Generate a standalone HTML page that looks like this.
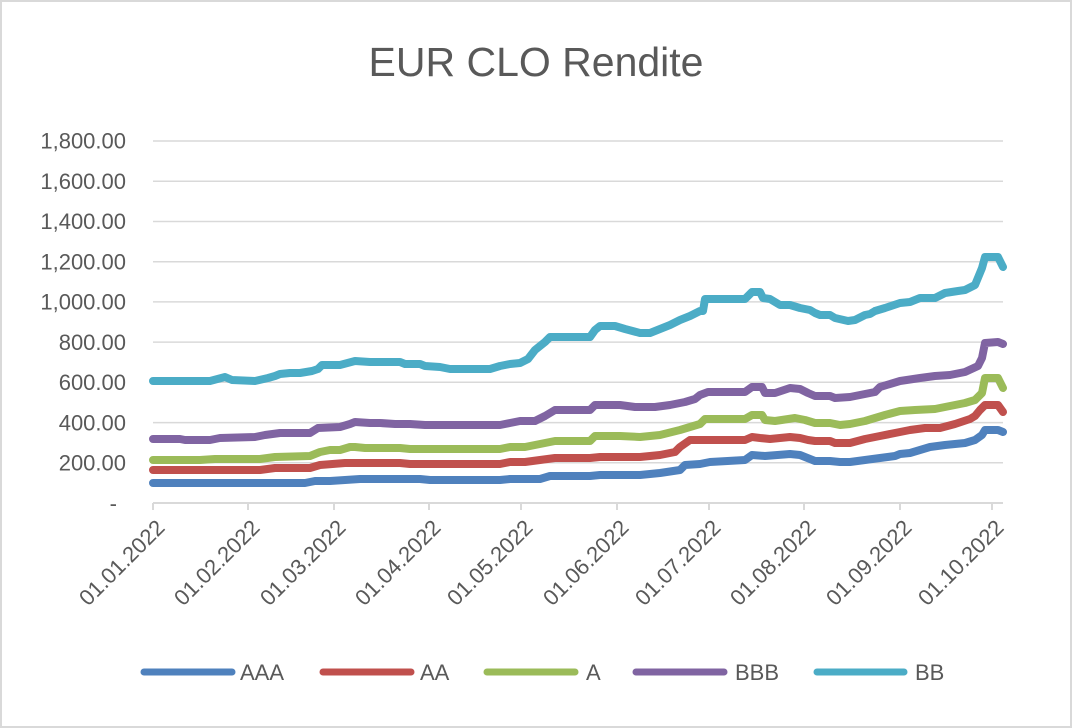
<!DOCTYPE html>
<html><head><meta charset="utf-8"><style>
html,body{margin:0;padding:0;background:#fff;}
svg{display:block;font-family:"Liberation Sans",Arial,sans-serif;}
</style></head><body>
<svg width="1072" height="728" viewBox="0 0 1072 728" xmlns="http://www.w3.org/2000/svg">
<rect x="1" y="1" width="1070" height="726" fill="#fff" stroke="#d9d9d9" stroke-width="2"/>
<text x="536" y="76" text-anchor="middle" font-size="41" fill="#595959">EUR CLO Rendite</text>
<g stroke="#d9d9d9" stroke-width="1.5">
<line x1="153" x2="1003" y1="462.8" y2="462.8"/>
<line x1="153" x2="1003" y1="422.6" y2="422.6"/>
<line x1="153" x2="1003" y1="382.3" y2="382.3"/>
<line x1="153" x2="1003" y1="342.1" y2="342.1"/>
<line x1="153" x2="1003" y1="301.9" y2="301.9"/>
<line x1="153" x2="1003" y1="261.7" y2="261.7"/>
<line x1="153" x2="1003" y1="221.5" y2="221.5"/>
<line x1="153" x2="1003" y1="181.2" y2="181.2"/>
<line x1="153" x2="1003" y1="141" y2="141"/>
</g>
<g stroke="#d9d9d9" stroke-width="2">
<line x1="153" x2="1003" y1="503" y2="503"/>
<line x1="153" x2="153" y1="503" y2="510"/><line x1="248" x2="248" y1="503" y2="510"/><line x1="334" x2="334" y1="503" y2="510"/><line x1="429" x2="429" y1="503" y2="510"/><line x1="521" x2="521" y1="503" y2="510"/><line x1="617" x2="617" y1="503" y2="510"/><line x1="709" x2="709" y1="503" y2="510"/><line x1="804" x2="804" y1="503" y2="510"/><line x1="900" x2="900" y1="503" y2="510"/><line x1="992" x2="992" y1="503" y2="510"/>
</g>
<g font-size="22" fill="#595959" text-anchor="end">
<text x="117" y="511">-</text>
<text x="126" y="470.5">200.00</text>
<text x="126" y="430.3">400.00</text>
<text x="126" y="390">600.00</text>
<text x="126" y="349.8">800.00</text>
<text x="126" y="309.6">1,000.00</text>
<text x="126" y="269.4">1,200.00</text>
<text x="126" y="229.2">1,400.00</text>
<text x="126" y="188.9">1,600.00</text>
<text x="126" y="148.7">1,800.00</text>
</g>
<g font-size="22" fill="#595959" text-anchor="end">
<text transform="translate(166,529) rotate(-45)">01.01.2022</text>
<text transform="translate(261,529) rotate(-45)">01.02.2022</text>
<text transform="translate(347,529) rotate(-45)">01.03.2022</text>
<text transform="translate(442,529) rotate(-45)">01.04.2022</text>
<text transform="translate(534,529) rotate(-45)">01.05.2022</text>
<text transform="translate(630,529) rotate(-45)">01.06.2022</text>
<text transform="translate(722,529) rotate(-45)">01.07.2022</text>
<text transform="translate(817,529) rotate(-45)">01.08.2022</text>
<text transform="translate(913,529) rotate(-45)">01.09.2022</text>
<text transform="translate(1005,529) rotate(-45)">01.10.2022</text>
</g>
<g fill="none" stroke-width="8" stroke-linejoin="round" stroke-linecap="round">
<polyline stroke="#4bacc6" points="153,381 210,381 225,377 232,380 255,381 268,378 275,376 280,374 290,373 300,373 312,371 318,369 322,365 340,365 355,361 370,362 400,362 405,364 420,364 425,366 440,367 450,369 490,369 500,366 510,364 520,363 528,359 535,350 545,342 550,337 590,337 595,330 600,326 615,326 625,329 640,333 650,333 670,325 680,320 690,316 700,311 703,311 705,299 745,299 752,292 760,292 763,298 770,299 780,305 790,305 800,308 810,310 815,313 820,315 830,315 835,318 848,321 855,320 865,315 870,314 875,311 885,308 900,303 910,302 920,298 935,298 945,293 958,291 965,290 975,285 982,268 985,257 998,257 1003,267"/>
<polyline stroke="#8064a2" points="153,439 180,439 185,440 210,440 220,438 255,437 265,435 280,433 310,433 318,428 340,427 350,424 355,422 370,423 380,423 395,424 410,424 425,425 500,425 510,423 520,421 535,421 545,416 555,410 590,410 595,405 620,405 635,407 655,407 670,405 685,402 695,399 700,395 708,392 745,392 752,387 762,387 765,393 775,393 790,388 800,389 808,393 815,396 830,396 835,398 850,397 865,394 875,392 880,387 900,381 920,378 935,376 950,375 965,372 978,366 982,358 985,343 998,342 1003,344"/>
<polyline stroke="#9bbb59" points="153,460 200,460 215,459 260,459 275,457 310,456 320,452 330,450 340,450 350,447 355,447 365,448 400,448 410,449 430,449 500,449 510,447 525,447 540,444 555,441 590,441 595,436 620,436 640,437 660,435 680,430 690,427 700,424 705,419 745,419 752,415 762,415 765,420 775,421 795,418 805,420 815,423 830,423 840,425 850,424 865,421 875,418 885,415 900,411 915,410 935,409 950,406 965,403 975,400 982,393 985,378 998,378 1003,388"/>
<polyline stroke="#c0504d" points="153,470 260,470 275,468 310,468 320,465 345,463 400,463 410,464 500,464 510,462 525,462 540,460 555,458 590,458 600,457 640,457 660,455 675,452 680,447 690,440 745,440 752,437 760,438 770,439 790,437 800,438 808,440 815,441 830,441 835,443 850,443 865,439 880,436 900,432 910,430 925,428 940,428 955,424 970,419 975,416 980,410 985,405 998,405 1003,412"/>
<polyline stroke="#4f81bd" points="153,483 305,483 315,481 330,481 345,480 360,479 420,479 430,480 500,480 510,479 540,479 550,476 590,476 600,475 640,475 660,473 680,470 685,465 700,464 710,462 745,460 752,455 765,456 790,454 800,455 810,459 815,461 830,461 840,462 850,462 865,460 880,458 895,456 900,454 910,453 920,450 930,447 945,445 965,443 975,440 982,435 985,430 998,430 1003,432"/>
</g>
<g stroke-width="7" stroke-linecap="round">
<line x1="144" x2="232" y1="672" y2="672" stroke="#4f81bd"/>
<line x1="323" x2="411" y1="672" y2="672" stroke="#c0504d"/>
<line x1="487" x2="575" y1="672" y2="672" stroke="#9bbb59"/>
<line x1="636" x2="724" y1="672" y2="672" stroke="#8064a2"/>
<line x1="817" x2="904" y1="672" y2="672" stroke="#4bacc6"/>
</g>
<g font-size="22" fill="#595959">
<text x="240" y="680">AAA</text>
<text x="420" y="680">AA</text>
<text x="586" y="680">A</text>
<text x="735" y="680">BBB</text>
<text x="915" y="680">BB</text>
</g>
</svg>
</body></html>
